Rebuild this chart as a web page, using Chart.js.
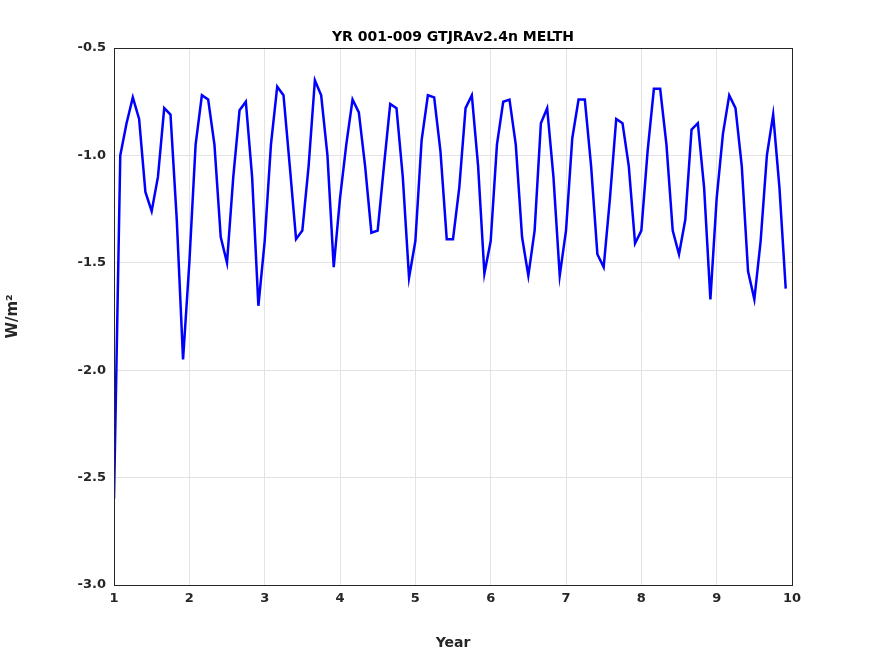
<!DOCTYPE html>
<html><head><meta charset="utf-8">
<script src="https://cdn.jsdelivr.net/npm/chart.js@4/dist/chart.umd.min.js"></script>
<style>body{margin:0;background:#fff}#wrap{width:875px;height:656px}</style>
</head><body><div id="wrap"><canvas id="c" width="875" height="656"></canvas></div>
<script>
// monthly values, year 1..9 (12 per year)
const y1 = [-2.6, -1.0, -0.85, -0.73, -0.83, -1.17, -1.26, -1.1, -0.78, -0.81, -1.3, -1.95];
const y2 = [-1.5, -0.95, -0.72, -0.74, -0.95, -1.38, -1.5, -1.1, -0.79, -0.75, -1.1, -1.7];
const y3 = [-1.4, -0.95, -0.68, -0.72, -1.05, -1.39, -1.35, -1.05, -0.65, -0.72, -1.0, -1.52];
const y4 = [-1.2, -0.95, -0.74, -0.8, -1.05, -1.36, -1.35, -1.05, -0.76, -0.78, -1.1, -1.57];
const y5 = [-1.4, -0.93, -0.72, -0.73, -0.98, -1.39, -1.39, -1.15, -0.78, -0.72, -1.05, -1.55];
const y6 = [-1.4, -0.95, -0.75, -0.74, -0.95, -1.38, -1.56, -1.35, -0.85, -0.78, -1.1, -1.56];
const y7 = [-1.35, -0.92, -0.74, -0.74, -1.05, -1.46, -1.52, -1.2, -0.83, -0.85, -1.05, -1.41];
const y8 = [-1.35, -0.98, -0.69, -0.69, -0.95, -1.35, -1.46, -1.3, -0.88, -0.85, -1.15, -1.67];
const y9 = [-1.2, -0.9, -0.72, -0.78, -1.05, -1.54, -1.67, -1.4, -1.0, -0.81, -1.15, -1.62];
const melth = [].concat(y1, y2, y3, y4, y5, y6, y7, y8, y9);
const xTicks = [1, 2, 3, 4, 5, 6, 7, 8, 9, 10];
const yTicks = [-3, -2.5, -2, -1.5, -1, -0.5];

const pts = melth.map((v, i) => ({ x: 1 + i / 12, y: v }));
const font = { family: 'DejaVu Sans', size: 13, weight: 'bold' };

const frame = {
  id: 'frame',
  afterDraw(chart) {
    const { ctx, chartArea: a } = chart;
    ctx.save();
    ctx.strokeStyle = '#262626';
    ctx.lineWidth = 1;
    ctx.strokeRect(a.left + 0.5, a.top + 0.5, a.right - a.left, a.bottom - a.top);
    ctx.fillStyle = '#000';
    ctx.font = 'bold 14px DejaVu Sans';
    ctx.textAlign = 'center';
    ctx.fillText('YR 001-009 GTJRAv2.4n MELTH', (a.left + a.right) / 2, 41);
    ctx.restore();
  }
};

new Chart(document.getElementById('c'), {
  type: 'line',
  data: { datasets: [{ data: pts, borderColor: '#0000ff', borderWidth: 2.5, pointRadius: 0, fill: false, tension: 0 }] },
  options: {
    responsive: false, animation: false,
    layout: { padding: { top: 48, right: 83, left: 0, bottom: 0 } },
    plugins: { legend: { display: false }, tooltip: { enabled: false } },
    scales: {
      x: {
        type: 'linear', min: 1, max: 10,
        afterBuildTicks: s => { s.ticks = xTicks.map(v => ({ value: v })); },
        afterFit: s => { s.height = 71; },
        grid: { color: '#e3e3e3', drawTicks: false },
        border: { display: false },
        ticks: { color: '#262626', font: font, padding: 6, maxRotation: 0 },
        title: { display: true, text: 'Year', color: '#262626', font: { family: 'DejaVu Sans', size: 14, weight: 'bold' }, padding: { top: 2 } }
      },
      y: {
        min: -3, max: -0.5,
        afterBuildTicks: s => { s.ticks = yTicks.map(v => ({ value: v })); },
        afterFit: s => { s.width = 114; },
        grid: { color: '#e3e3e3', drawTicks: false },
        border: { display: false },
        ticks: { color: '#262626', font: font, padding: 8 },
        title: { display: true, text: 'W/m²', color: '#262626', font: { family: 'DejaVu Sans', size: 15, weight: 'bold' }, padding: { bottom: 10 } }
      }
    }
  },
  plugins: [frame]
});
</script></body></html>
